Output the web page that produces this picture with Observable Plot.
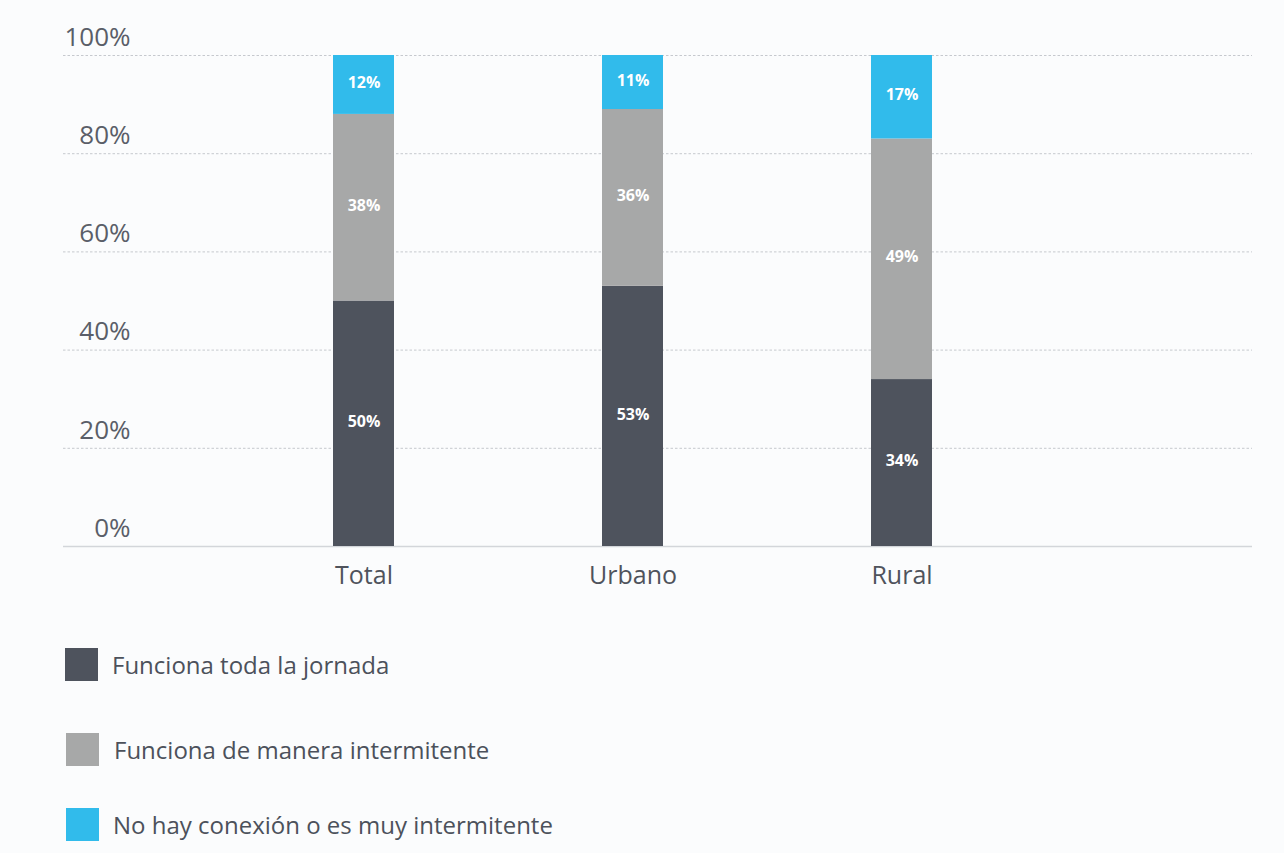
<!DOCTYPE html>
<html>
<head>
<meta charset="utf-8">
<script src="https://cdn.jsdelivr.net/npm/d3@7"></script>
<script src="https://cdn.jsdelivr.net/npm/@observablehq/plot@0.6"></script>
<style>
  html, body { margin: 0; padding: 0; background: #fbfcfd; }
  body { width: 1284px; height: 853px; overflow: hidden; font-family: "Open Sans", Roboto, sans-serif; }
  #chart svg { display: block; background: transparent; }
  .legend { position: absolute; left: 0; top: 0; }
  .item { position: absolute; display: flex; align-items: center; height: 33px; white-space: nowrap; }
  .item:nth-child(1) { left: 65px; top: 648px; }
  .item:nth-child(2) { left: 66px; top: 733px; }
  .item:nth-child(3) { left: 66px; top: 808px; }
  .sw { width: 33px; height: 33px; margin-right: 14px; flex: none; }
  .item:nth-child(2) .sw { margin-right: 15px; }
  .lab { font-size: 24px; color: #4c515b; }
</style>
</head>
<body>
<div id="chart"></div>
<div class="legend" id="legend"></div>
<script>
const categories = ["Total", "Urbano", "Rural"];
const series = ["Funciona toda la jornada", "Funciona de manera intermitente", "No hay conexión o es muy intermitente"];
const colors = ["#4e535d", "#a7a8a8", "#31bbeb"];
const valuesTodaJornada = [50, 53, 34];
const valuesIntermitente = [38, 36, 49];
const valuesSinConexion = [12, 11, 17];
const yTicks = [0, 20, 40, 60, 80, 100];

const seriesValues = [valuesTodaJornada, valuesIntermitente, valuesSinConexion];
const data = [];
series.forEach((s, si) => {
  categories.forEach((c, ci) => {
    data.push({cat: c, series: s, value: seriesValues[si][ci]});
  });
});

const plot = Plot.plot({
  width: 1284,
  height: 600,
  marginTop: 55,
  marginBottom: 54,
  marginLeft: 63,
  marginRight: 32,
  style: {fontFamily: "'Open Sans', Roboto, sans-serif", background: "transparent"},
  x: {domain: categories, range: [332.3, 933.3], paddingInner: 0.774, paddingOuter: 0, label: null},
  y: {domain: [0, 100], label: null, axis: null},
  color: {domain: series, range: colors},
  marks: [
    Plot.gridY(yTicks.filter(d => d > 0), {stroke: "#c6c9ce", strokeOpacity: 1, strokeDasharray: "2.5,2"}),
    Plot.ruleY([0], {stroke: "#d3d6da", strokeWidth: 1.5}),
    Plot.text(yTicks, {y: d => d, text: d => d + "%", frameAnchor: "left", dx: 67, dy: -18, textAnchor: "end", lineAnchor: "middle", fontSize: 26, fill: "#5a5e68"}),
    Plot.barY(data, Plot.stackY({x: "cat", y: "value", fill: "series", z: "series"})),
    Plot.text(data, Plot.stackY({x: "cat", y: "value", z: "series", text: d => d.value + "%", fill: "white", fontSize: 16, fontWeight: "bold", dy: -2})),
    Plot.axisX({tickSize: 0, tickPadding: 20, fontSize: 25, fill: "#4f535c", label: null})
  ]
});
document.getElementById("chart").append(plot);

const legend = document.getElementById("legend");
series.forEach((s, i) => {
  const item = document.createElement("div");
  item.className = "item";
  const sw = document.createElement("div");
  sw.className = "sw";
  sw.style.background = colors[i];
  const lab = document.createElement("div");
  lab.className = "lab";
  lab.textContent = s;
  item.append(sw, lab);
  legend.append(item);
});
</script>
</body>
</html>
